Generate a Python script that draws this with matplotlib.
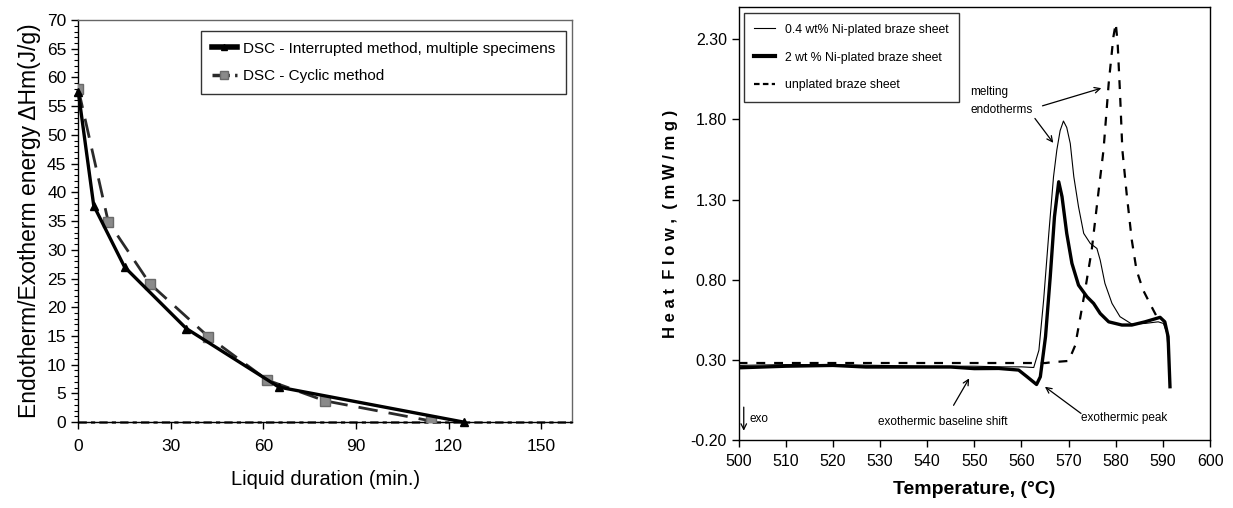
import matplotlib
matplotlib.use("Agg")
import matplotlib.pyplot as plt
from matplotlib.ticker import MultipleLocator
from matplotlib.lines import Line2D

FONT = ['Liberation Sans', 'DejaVu Sans']
plt.rcParams['font.family'] = FONT

# ---------------- Left panel data ----------------
interrupted_x = [0, 5, 15, 35, 65, 125]
interrupted_y = [57.5, 37.7, 27.0, 16.3, 6.1, 0.0]
cyclic_x = [0, 9.7, 23.2, 42.1, 61.3, 80.0, 114.4]
cyclic_y = [58.0, 34.9, 24.1, 14.9, 7.3, 3.7, 0.2]
zero_x = [0, 160]
zero_y = [0, 0]
left_xticks = [0, 30, 60, 90, 120, 150]
left_yticks = list(range(0, 75, 5))

# ---------------- Right panel data ----------------
thin_T = [500, 510, 520, 530, 540, 550, 556, 560, 562.6, 563.7, 564.7, 565.8,
          566.8, 567.5, 568.2, 568.9, 569.6, 570.35, 571.1, 572.1, 573.2, 574.6,
          576.0, 576.7, 577.7, 579.2, 580.9, 583.4, 586.2, 589.0, 590.1, 590.8,
          591.2, 591.5]
thin_Q = [0.265, 0.27, 0.27, 0.265, 0.26, 0.26, 0.256, 0.256, 0.252, 0.36, 0.673, 1.089,
          1.443, 1.609, 1.73, 1.79, 1.75, 1.65, 1.443, 1.255, 1.089, 1.026,
          0.995, 0.922, 0.777, 0.652, 0.569, 0.523, 0.527, 0.537, 0.527, 0.47,
          0.33, 0.14]

thick_T = [500, 505, 510, 520, 527, 535, 545, 550, 555.2, 559.4, 561.2, 563.2,
           564.0, 565.1, 566.1, 567.0, 567.9, 568.6, 569.6, 570.7, 572.1, 573.9,
           575.3, 576.7, 578.5, 581.3, 583.4, 586.2, 589.4, 590.4, 591.1, 591.5]
thick_Q = [0.25, 0.255, 0.26, 0.265, 0.255, 0.255, 0.255, 0.245, 0.246, 0.236, 0.194, 0.146,
           0.194, 0.444, 0.818, 1.193, 1.411, 1.318, 1.089, 0.902, 0.766, 0.693,
           0.652, 0.589, 0.537, 0.517, 0.517, 0.537, 0.565, 0.537, 0.444, 0.132]

dash_T = [500, 520, 540, 560, 565.1, 566.5, 570.0, 571.4, 572.5, 573.5, 574.9,
          576.3, 577.4, 578.5, 579.5, 580.0, 580.4, 580.9, 581.4, 582.3, 583.4,
          584.4, 585.8, 587.6, 588.7]
dash_Q = [0.28, 0.28, 0.28, 0.28, 0.28, 0.285, 0.293, 0.39, 0.569, 0.735, 0.985,
          1.339, 1.609, 2.025, 2.316, 2.40, 2.275, 1.965, 1.61, 1.339, 1.047,
          0.86, 0.735, 0.631, 0.569]

right_xticks = list(range(500, 601, 10))
right_yticks = [-0.20, 0.30, 0.80, 1.30, 1.80, 2.30]

fig = plt.figure(figsize=(12.33, 5.08), dpi=100)

# ================= Left panel =================
ax1 = fig.add_axes([0.0635, 0.169, 0.4004, 0.7916])
ax1.plot(zero_x, zero_y, color='#555555', lw=2.0, ls=(0, (3, 1.5, 1.5, 1.5)),
         zorder=1, clip_on=False)
ax1.plot(cyclic_x, cyclic_y, color='#2a2a2a', lw=2.0, ls=(0, (7, 4)),
         marker='s', ms=7, mfc='#8a8a8a', mec='#6a6a6a', zorder=3)
ax1.plot(interrupted_x, interrupted_y, color='black', lw=2.4,
         marker='^', ms=6, mfc='black', mec='black', zorder=4, clip_on=False)
ax1.set_xlim(0, 160)
ax1.set_ylim(0, 70)
ax1.set_xticks(left_xticks)
ax1.set_yticks(left_yticks)
ax1.yaxis.set_minor_locator(MultipleLocator(1))
ax1.tick_params(axis='both', which='major', direction='out', length=5,
                width=1, labelsize=12.5)
ax1.tick_params(axis='y', which='minor', direction='out', length=3, width=0.8)
ax1.tick_params(axis='x', which='major', pad=7)
for s in ax1.spines.values():
    s.set_linewidth(1.0)
ax1.spines['right'].set_color('#666666')
ax1.spines['top'].set_color('#666666')
ax1.set_xlabel('Liquid duration (min.)', fontsize=14.5, labelpad=12)
ax1.set_ylabel('Endotherm/Exotherm energy ΔHm(J/g)', fontsize=16.5, labelpad=4)
h1 = Line2D([], [], color='black', lw=4, marker='^', ms=5, mfc='black')
h2 = Line2D([], [], color='#2a2a2a', lw=2.5, ls=(0, (3, 1.5, 0.5, 1.5)),
            marker='s', ms=6, mfc='#8a8a8a', mec='#6a6a6a')
leg1 = ax1.legend([h1, h2], ['DSC - Interrupted method, multiple specimens',
                             'DSC - Cyclic method'],
                  loc='upper right', bbox_to_anchor=(0.987, 0.973),
                  borderaxespad=0, fontsize=11, frameon=True, fancybox=False,
                  edgecolor='black', handlelength=1.6, borderpad=0.7,
                  labelspacing=0.9, handletextpad=0.4)
leg1.get_frame().set_linewidth(1.0)

# ================= Right panel =================
ax2 = fig.add_axes([0.599, 0.134, 0.3824, 0.8517])
ax2.plot(dash_T, dash_Q, color='black', lw=1.6, ls=(0, (4, 4)))
ax2.plot(thin_T, thin_Q, color='black', lw=0.8)
ax2.plot(thick_T, thick_Q, color='black', lw=2.4)
ax2.set_xlim(500, 600)
ax2.set_ylim(-0.2, 2.5)
ax2.set_xticks(right_xticks)
ax2.set_yticks(right_yticks)
ax2.set_yticklabels([f'{v:.2f}' for v in right_yticks])
ax2.tick_params(axis='both', direction='out', length=5, width=1, labelsize=11.5)
ax2.tick_params(axis='x', pad=5)
for s in ax2.spines.values():
    s.set_linewidth(1.0)
ax2.set_xlabel('Temperature, (°C)', fontsize=14, fontweight='bold', labelpad=9)
ax2.set_ylabel('H e a t  F l o w ,  ( m W / m g )', fontsize=12,
               fontweight='bold', labelpad=9)

g1 = Line2D([], [], color='black', lw=0.8)
g2 = Line2D([], [], color='black', lw=3)
g3 = Line2D([], [], color='black', lw=1.6, ls=(0, (2.5, 1.5)))
leg2 = ax2.legend([g1, g2, g3], ['0.4 wt% Ni-plated braze sheet',
                                 '2 wt % Ni-plated braze sheet',
                                 'unplated braze sheet'],
                  loc='upper left', bbox_to_anchor=(0.0117, 0.986),
                  borderaxespad=0, fontsize=8.8, frameon=True, fancybox=False,
                  edgecolor='black', handlelength=1.7, borderpad=0.85,
                  labelspacing=1.3, handletextpad=0.8)
leg2.get_frame().set_linewidth(1.0)

ann_fs = 8.5
ax2.text(549.1, 1.97, 'melting', fontsize=ann_fs, va='center', ha='left')
ax2.text(549.1, 1.86, 'endotherms', fontsize=ann_fs, va='center', ha='left')
arrow = dict(arrowstyle='->', color='black', lw=0.9)
ax2.annotate('', xy=(577.5, 2.0), xytext=(563.9, 1.88), arrowprops=arrow)
ax2.annotate('', xy=(567.1, 1.64), xytext=(562.5, 1.82), arrowprops=arrow)
ax2.text(543.2, -0.087, 'exothermic baseline shift', fontsize=ann_fs,
         ha='center', va='center')
ax2.annotate('', xy=(549.2, 0.199), xytext=(545.3, 0.001), arrowprops=arrow)
ax2.text(581.8, -0.064, 'exothermic peak', fontsize=ann_fs, ha='center', va='center')
ax2.annotate('', xy=(564.5, 0.142), xytext=(573.1, -0.045), arrowprops=arrow)
ax2.annotate('', xy=(501.1, -0.16), xytext=(501.1, 0.022), arrowprops=arrow)
ax2.text(502.3, -0.067, 'exo', fontsize=ann_fs, ha='left', va='center')

fig.savefig('out.png', dpi=100)
